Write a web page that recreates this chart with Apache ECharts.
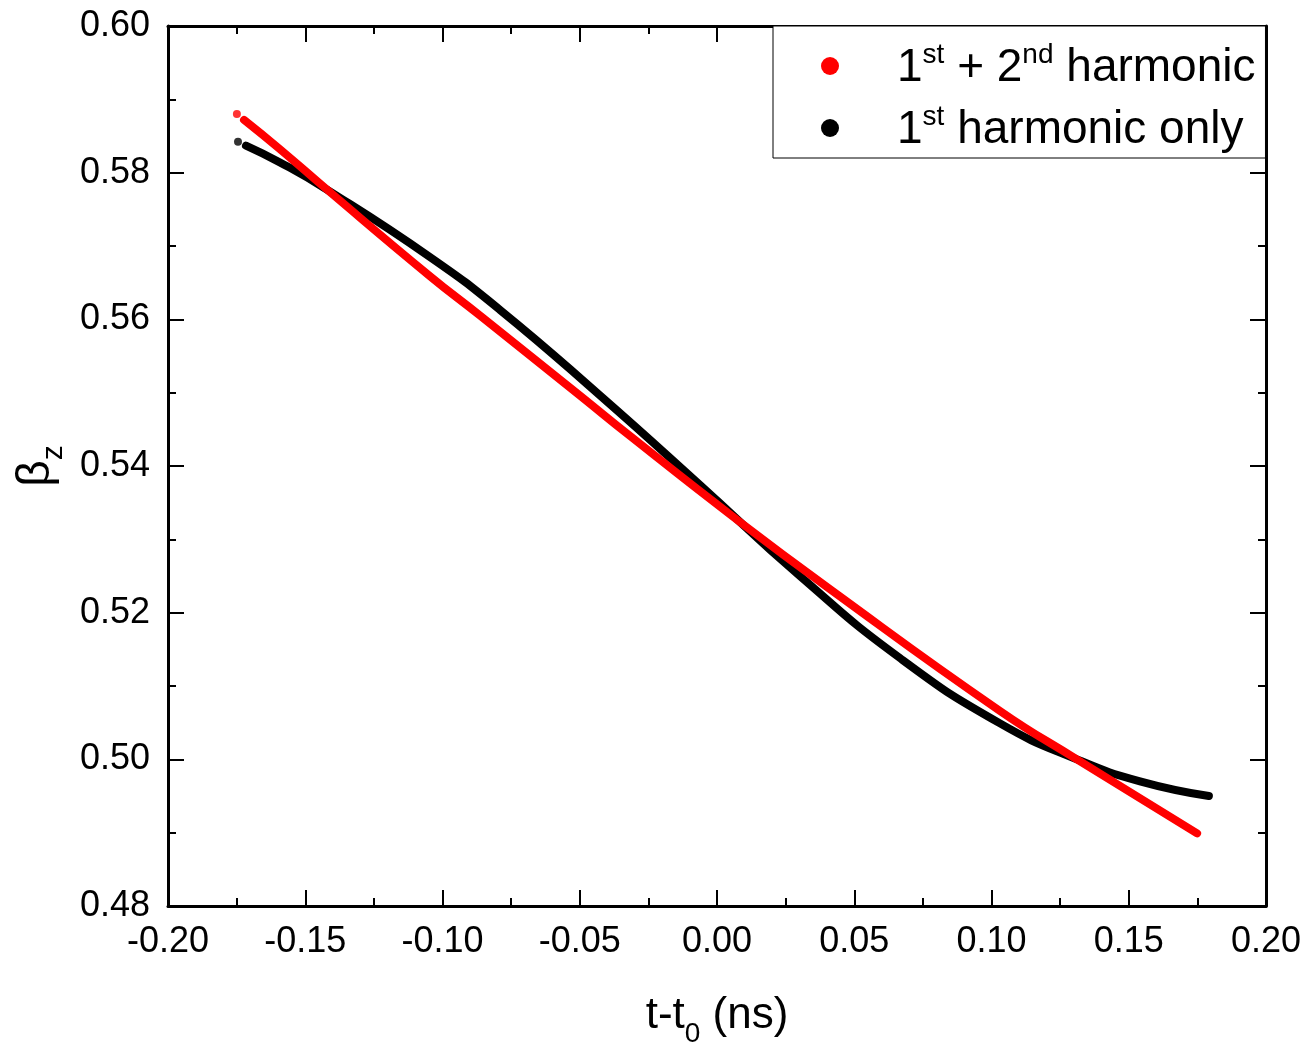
<!DOCTYPE html>
<html>
<head>
<meta charset="utf-8">
<script src="https://cdn.jsdelivr.net/npm/echarts@6/dist/echarts.min.js"></script>
<style>html,body{margin:0;padding:0;background:#fff;}#chart{width:1309px;height:1053px;}</style>
</head>
<body>
<div id="chart"></div>
<script>
// Data
const redIsolated = [[-0.1749, 0.5880]];
const redX = [-0.1723, -0.1592, -0.1421, -0.1046, -0.0863, -0.0499, -0.0317, 0.0058, 0.0412, 0.1031, 0.1311, 0.1749];
const redY = [0.5872, 0.5832, 0.5777, 0.5659, 0.5605, 0.5496, 0.5441, 0.5331, 0.5232, 0.5066, 0.5000, 0.4899];
const blackIsolated = [[-0.1745, 0.5842]];
const blackX = [-0.1716, -0.1592, -0.1421, -0.1046, -0.0791, -0.0426, -0.0062, 0.0302, 0.0667, 0.1031, 0.1311, 0.1541, 0.1792];
const blackY = [0.5837, 0.5814, 0.5777, 0.5685, 0.5613, 0.5496, 0.5374, 0.5250, 0.5138, 0.5049, 0.5000, 0.4970, 0.4950];
const xTicks = { min: -0.2, max: 0.2, interval: 0.05 };
const yTicks = { min: 0.48, max: 0.60, interval: 0.02 };

const zip = (xs, ys) => xs.map((x, i) => [x, ys[i]]);
const FONT = '"Liberation Sans", Arial, sans-serif';

const chart = echarts.init(document.getElementById('chart'));
const axisCommon = {
  type: 'value',
  axisLine: { show: true, onZero: false, lineStyle: { color: '#000', width: 3 } },
  axisTick: { show: true, inside: true, length: 16, lineStyle: { color: '#000', width: 2 } },
  minorTick: { show: true, splitNumber: 2, length: 8, lineStyle: { color: '#000', width: 2 } },
  splitLine: { show: false }
};
chart.setOption({
  animation: false,
  backgroundColor: '#fff',
  grid: { left: 168, right: 43, top: 26, bottom: 144 },
  legend: {
    left: 773, top: 26,
    orient: 'vertical',
    padding: [15, 10, 5, 48],
    itemGap: 12,
    itemWidth: 18, itemHeight: 18,
    borderColor: '#000', borderWidth: 1,
    backgroundColor: '#fff',
    data: [
      { name: 'red', icon: 'circle' },
      { name: 'black', icon: 'circle' }
    ],
    formatter: function (n) {
      return n === 'red' ? '{a|1}{s|st}{a| + 2}{s|nd}{a| harmonic}' : '{a|1}{s|st}{a| harmonic only}';
    },
    textStyle: {
      padding: [0, 0, 0, 53],
      rich: {
        a: { fontFamily: FONT, fontSize: 46, color: '#000', lineHeight: 50, verticalAlign: 'bottom' },
        s: { fontFamily: FONT, fontSize: 28, color: '#000', lineHeight: 50, verticalAlign: 'top', padding: [0, 0, 20, 0] }
      }
    }
  },
  xAxis: [
    Object.assign({}, axisCommon, {
      position: 'bottom', min: xTicks.min, max: xTicks.max, interval: xTicks.interval,
      axisLabel: { fontFamily: FONT, fontSize: 36, color: '#000', margin: 18, formatter: v => v.toFixed(2) },
      name: '{a|t-t}{s|0}{a| (ns)}', nameLocation: 'middle', nameGap: 80,
      nameTextStyle: { rich: {
        a: { fontFamily: FONT, fontSize: 44, color: '#000', lineHeight: 52, verticalAlign: 'bottom' },
        s: { fontFamily: FONT, fontSize: 28, color: '#000', lineHeight: 52, verticalAlign: 'bottom', padding: [0, 0, -10, 0] }
      } }
    }),
    Object.assign({}, axisCommon, {
      position: 'top', min: xTicks.min, max: xTicks.max, interval: xTicks.interval,
      axisLabel: { show: false }
    })
  ],
  yAxis: [
    Object.assign({}, axisCommon, {
      position: 'left', min: yTicks.min, max: yTicks.max, interval: yTicks.interval,
      axisLabel: { fontFamily: FONT, fontSize: 36, color: '#000', margin: 18, formatter: v => v.toFixed(2) },
      name: '{a|β}{s|z}', nameLocation: 'middle', nameGap: 104,
      nameTextStyle: { rich: {
        a: { fontFamily: FONT, fontSize: 46, color: '#000', lineHeight: 52, verticalAlign: 'bottom' },
        s: { fontFamily: FONT, fontSize: 30, color: '#000', lineHeight: 52, verticalAlign: 'bottom', padding: [0, 0, -10, 0] }
      } }
    }),
    Object.assign({}, axisCommon, {
      position: 'right', min: yTicks.min, max: yTicks.max, interval: yTicks.interval,
      axisLabel: { show: false }
    })
  ],
  series: [
    {
      name: 'red', type: 'line', data: zip(redX, redY), smooth: 0.5,
      showSymbol: false, symbol: 'circle', itemStyle: { color: '#ff0000' },
      lineStyle: { color: '#ff0000', width: 8, cap: 'round' }, z: 3
    },
    {
      name: 'red', type: 'scatter', data: redIsolated, symbol: 'circle', symbolSize: 8,
      itemStyle: { color: '#ff0000' }, z: 3
    },
    {
      name: 'black', type: 'line', data: zip(blackX, blackY), smooth: 0.5,
      showSymbol: false, symbol: 'circle', itemStyle: { color: '#000' },
      lineStyle: { color: '#000', width: 8, cap: 'round' }, z: 2
    },
    {
      name: 'black', type: 'scatter', data: blackIsolated, symbol: 'circle', symbolSize: 8,
      itemStyle: { color: '#000' }, z: 2
    }
  ]
});
</script>
</body>
</html>
